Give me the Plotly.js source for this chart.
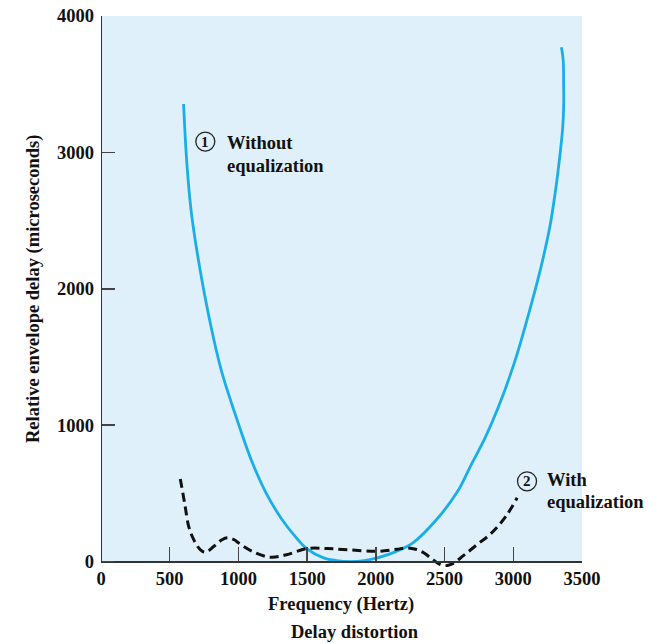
<!DOCTYPE html>
<html>
<head>
<meta charset="utf-8">
<script src="https://cdn.plot.ly/plotly-3.0.1.min.js"></script>
<style>html,body{margin:0;padding:0;background:#fff;}#chart{width:667px;height:644px;}</style>
</head>
<body>
<div id="chart"></div>
<script>
// Curve 1: without equalization
const freqWithout = [601, 624, 655, 711, 795, 878, 990, 1098, 1196, 1317, 1414, 1499, 1620, 1713, 1814, 1916, 2018, 2146, 2272, 2442, 2594, 2687, 2799, 2893, 3015, 3120, 3202, 3266, 3306, 3338, 3360, 3367, 3366, 3363, 3350];
const delayWithout = [3355, 2930, 2579, 2198, 1749, 1392, 1040, 733, 513, 308, 183, 93, 27, 7, 0, 7, 29, 73, 139, 308, 513, 696, 916, 1136, 1480, 1846, 2161, 2454, 2711, 2967, 3187, 3355, 3531, 3678, 3771];
// Curve 2: with equalization
const freqWith = [577, 610, 640, 680, 720, 760, 820, 880, 920, 970, 1000, 1100, 1232, 1350, 1499, 1650, 1814, 2009, 2150, 2227, 2290, 2348, 2420, 2470, 2510, 2560, 2639, 2737, 2821, 2894, 2955, 3028];
const delayWith = [606, 420, 250, 150, 90, 68, 110, 160, 174, 160, 137, 75, 32, 50, 95, 95, 85, 75, 90, 100, 90, 64, 10, -22, -30, -15, 45, 125, 190, 265, 344, 467];
const xTicks = [0, 500, 1000, 1500, 2000, 2500, 3000, 3500];
const yTicks = [0, 1000, 2000, 3000, 4000];

const serif = 'Liberation Serif, Times New Roman, serif';
const YMIN = -40, YMAX = 4000;
const FS = 18.5;

const traces = [
  {x: freqWithout, y: delayWithout, mode: 'lines', type: 'scatter',
   line: {color: '#1aaee8', width: 2.8, shape: 'spline', smoothing: 1}, hoverinfo: 'skip'},
  {x: freqWith, y: delayWith, mode: 'lines', type: 'scatter',
   line: {color: '#111', width: 3, dash: '9px,5px', shape: 'spline', smoothing: 1}, hoverinfo: 'skip'}
];

function circle(cx, cy) {
  return {type: 'circle', xref: 'x', yref: 'y', xsizemode: 'pixel', ysizemode: 'pixel',
    xanchor: cx, yanchor: cy, x0: -9.5, x1: 9.5, y0: -9.5, y1: 9.5,
    line: {color: '#222', width: 1.3}, layer: 'above'};
}
function lbl(x, y, text, anchor) {
  return {x: x, y: y, xref: 'x', yref: 'y', text: text, showarrow: false,
    xanchor: anchor || 'left', yanchor: 'middle',
    font: {family: serif, size: FS, color: '#111', weight: 'bold'}};
}

const layout = {
  width: 667, height: 644,
  margin: {l: 101, r: 85, t: 16, b: 77},
  paper_bgcolor: '#fff', plot_bgcolor: '#fff',
  showlegend: false,
  font: {family: serif, size: FS, color: '#111'},
  xaxis: {
    range: [0, 3500], tickvals: xTicks, ticktext: xTicks.map(String),
    anchor: 'free', position: (0 - YMIN) / (YMAX - YMIN),
    showline: true, linecolor: '#333', linewidth: 2,
    ticks: 'inside', ticklen: 14, tickwidth: 1.5, tickcolor: '#444',
    showgrid: false, zeroline: false,
    tickfont: {family: serif, size: FS, color: '#111', weight: 'bold'}
  },
  yaxis: {
    range: [YMIN, YMAX], tickvals: yTicks, ticktext: yTicks.map(String),
    showline: false, ticklabelstandoff: 6,
    ticks: 'inside', ticklen: 14, tickwidth: 1.5, tickcolor: '#444',
    showgrid: false, zeroline: false,
    tickfont: {family: serif, size: FS, color: '#111', weight: 'bold'}
  },
  shapes: [
    {type: 'rect', xref: 'x', yref: 'y', x0: 0, x1: 3500, y0: 0, y1: 4000,
     fillcolor: '#dff0fb', line: {width: 0}, layer: 'below'},
    {type: 'line', xref: 'x', yref: 'y', x0: 0, x1: 0, y0: 0, y1: 4000,
     line: {color: '#333', width: 2}, layer: 'above'},
    circle(759, 3079),
    circle(3100, 588)
  ],
  annotations: [
    {x: 759, y: 3079, xref: 'x', yref: 'y', text: '1', showarrow: false, xanchor: 'center', yanchor: 'middle',
     font: {family: serif, size: 15, color: '#111', weight: 'bold'}},
    lbl(905, 3067, 'Without'),
    lbl(905, 2901, 'equalization'),
    {x: 3100, y: 588, xref: 'x', yref: 'y', text: '2', showarrow: false, xanchor: 'center', yanchor: 'middle',
     font: {family: serif, size: 15, color: '#111', weight: 'bold'}},
    lbl(3233, 596, 'With'),
    lbl(3233, 434, 'equalization'),
    {xref: 'paper', yref: 'paper', x: (33 - 101) / 481, y: (567 - 289) / 551,
     text: 'Relative envelope delay (microseconds)', textangle: -90, showarrow: false,
     xanchor: 'center', yanchor: 'middle',
     font: {family: serif, size: FS, color: '#111', weight: 'bold'}},
    {xref: 'paper', yref: 'paper', x: (341 - 101) / 481, y: (567 - 604) / 551,
     text: 'Frequency (Hertz)', showarrow: false, xanchor: 'center', yanchor: 'middle',
     font: {family: serif, size: FS, color: '#111', weight: 'bold'}},
    {xref: 'paper', yref: 'paper', x: (355 - 101) / 481, y: (567 - 632) / 551,
     text: 'Delay distortion', showarrow: false, xanchor: 'center', yanchor: 'middle',
     font: {family: serif, size: FS, color: '#111', weight: 'bold'}}
  ]
};

Plotly.newPlot('chart', traces, layout, {staticPlot: true, displayModeBar: false});
</script>
</body>
</html>
